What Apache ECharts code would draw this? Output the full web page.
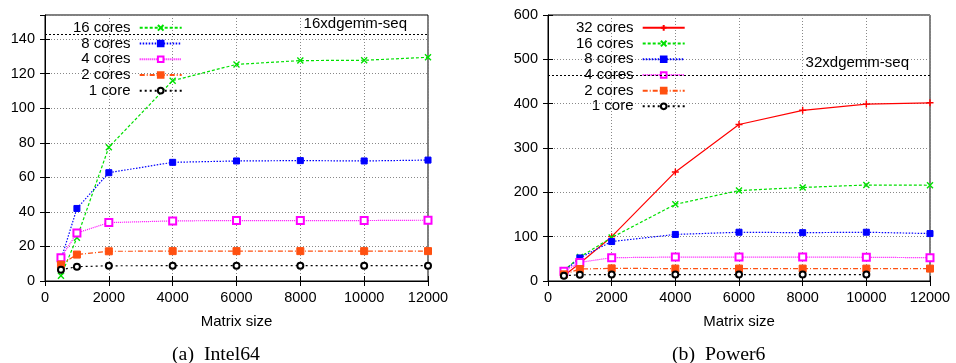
<!DOCTYPE html>
<html>
<head>
<meta charset="utf-8">
<script src="https://cdn.jsdelivr.net/npm/echarts@6/dist/echarts.min.js"></script>
<style>
  html, body { margin: 0; padding: 0; background: #fff; }
  #chart { width: 956px; height: 363px; }
</style>
</head>
<body>
<div id="chart"></div>
<script>
// matrix sizes on the x axis
const matrixSizes = [500, 1000, 2000, 4000, 6000, 8000, 10000, 12000];

// (a) Intel64
const intel16 = [3, 25, 77.5, 116, 125.4, 127.6, 127.8, 129.5];
const intel8 = [12.4, 42, 62.7, 68.7, 69.5, 69.7, 69.5, 70];
const intel4 = [13.5, 27.8, 33.8, 34.8, 35, 35, 35, 35.2];
const intel2 = [9.5, 15.3, 17.2, 17.3, 17.3, 17.3, 17.3, 17.3];
const intel1 = [6.5, 8.3, 8.8, 8.9, 8.9, 8.9, 8.9, 8.9];
const intelSeq = 143;

// (b) Power6
const power32 = [12, 40, 100, 246, 353, 385, 399, 402];
const power16 = [24, 54, 98, 173, 204, 211, 216.5, 216];
const power8 = [22, 52, 89, 105, 110, 109, 110, 107];
const power4 = [22, 42, 52.6, 54, 54, 54, 53.5, 52.6];
const power2 = [15, 27, 28.5, 28, 28, 28, 28, 28];
const power1 = [12, 14, 14.4, 14.4, 14.4, 14.4, 14.4];
const powerSeq = 463;

const FONT = 'Liberation Sans';
const crossPath = 'path://M0,0L10,10M10,0L0,10';
const plusPath = 'path://M5,0L5,10M0,5L10,5';

const styles = {
    '32 cores': { color: '#ff0000', dash: 'solid', symbol: plusPath, size: 7, stroke: true },
    '16 cores': { color: '#00e000', dash: [3, 2], symbol: crossPath, size: 6, stroke: true },
    '8 cores': { color: '#0000ff', dash: [1.5, 1.5], symbol: 'rect', size: 6 },
    '4 cores': { color: '#ff00ff', dash: [1, 1], symbol: 'emptyRect', size: 7 },
    '2 cores': { color: '#ff5010', dash: [5, 2, 1, 2], symbol: 'rect', size: 7 },
    '1 core': { color: '#000000', dash: [2, 3], symbol: 'emptyCircle', size: 6 }
};

function pairs(vals) {
    return vals.map((v, i) => [matrixSizes[i], v]);
}

function makeSeries(name, vals, gridIdx, seq) {
    const st = styles[name];
    const s = {
        name: name,
        type: 'line',
        xAxisIndex: gridIdx,
        yAxisIndex: gridIdx,
        data: pairs(vals),
        symbol: st.symbol,
        symbolSize: st.size,
        showAllSymbol: true,
        animation: false,
        z: 3,
        lineStyle: { color: st.color, width: 1.2, type: st.dash },
        itemStyle: {
            color: st.color,
            borderColor: st.color,
            borderWidth: st.stroke ? 1.4 : 1
        }
    };
    if (seq !== undefined) {
        s.markLine = {
            silent: true,
            symbol: 'none',
            animation: false,
            lineStyle: { color: '#000', width: 1, type: [2, 2] },
            label: {
                show: true,
                position: 'insideEndTop',
                formatter: seq.text,
                color: '#000',
                fontFamily: FONT,
                fontSize: 15,
                distance: seq.dy,
                padding: [0, seq.dx, 0, 0]
            },
            data: [{ yAxis: seq.value }]
        };
    }
    return s;
}

const gridTop = 15;
const gridBottom = 82;

function xAxisFor(gridIdx) {
    return {
        type: 'value',
        gridIndex: gridIdx,
        min: 0,
        max: 12000,
        interval: 2000,
        name: 'Matrix size',
        nameLocation: 'middle',
        nameGap: 33,
        nameTextStyle: { fontFamily: FONT, fontSize: 15, color: '#000' },
        axisLine: { show: true, lineStyle: { color: '#000', width: 1 } },
        axisTick: { show: true, inside: true, length: 5, lineStyle: { color: '#000' } },
        axisLabel: { fontFamily: FONT, fontSize: 14.5, color: '#000', margin: 9, formatter: v => String(v) },
        splitLine: { show: true, lineStyle: { color: '#888', width: 1, type: [1, 2] } }
    };
}

function yAxisFor(gridIdx, max, interval, showMax) {
    return {
        type: 'value',
        gridIndex: gridIdx,
        min: 0,
        max: max,
        interval: interval,
        axisLine: { show: true, lineStyle: { color: '#000', width: 1 } },
        axisTick: { show: true, inside: true, length: 5, lineStyle: { color: '#000' } },
        axisLabel: { fontFamily: FONT, fontSize: 14.5, color: '#000', margin: 10, showMaxLabel: showMax, formatter: v => String(v) },
        splitLine: { show: true, lineStyle: { color: '#888', width: 1, type: [1, 2] } }
    };
}

// mirrored ticks on top and right, like gnuplot does
function mirrorX(gridIdx) {
    return {
        type: 'value', gridIndex: gridIdx, position: 'top',
        min: 0, max: 12000, interval: 2000,
        axisLine: { show: false },
        axisTick: { show: true, inside: true, length: 5, lineStyle: { color: '#000' } },
        axisLabel: { show: false },
        splitLine: { show: false }
    };
}
function mirrorY(gridIdx, max, interval) {
    return {
        type: 'value', gridIndex: gridIdx, position: 'right',
        min: 0, max: max, interval: interval,
        axisLine: { show: false },
        axisTick: { show: true, inside: true, length: 5, lineStyle: { color: '#000' } },
        axisLabel: { show: false },
        splitLine: { show: false }
    };
}

function legendFor(names, left) {
    return {
        orient: 'vertical',
        left: left,
        top: 20,
        padding: 0,
        align: 'right',
        itemWidth: 42,
        itemHeight: 7,
        itemGap: 0,
        selectedMode: false,
        formatter: n => n + ' ',
        textStyle: { fontFamily: FONT, fontSize: 15, color: '#000', lineHeight: 15.7, height: 15.7 },
        data: names
    };
}

const chart = echarts.init(document.getElementById('chart'), null, { renderer: 'canvas' });

const option = {
    backgroundColor: '#fff',
    animation: false,
    grid: [
        { left: 45, right: 528, top: gridTop, bottom: gridBottom, show: true, borderColor: '#000', borderWidth: 1, backgroundColor: 'transparent' },
        { left: 548, right: 26, top: gridTop, bottom: gridBottom, show: true, borderColor: '#000', borderWidth: 1, backgroundColor: 'transparent' }
    ],
    xAxis: [xAxisFor(0), xAxisFor(1), mirrorX(0), mirrorX(1)],
    yAxis: [yAxisFor(0, 154, 20, false), yAxisFor(1, 600, 100, true), mirrorY(0, 154, 20), mirrorY(1, 600, 100)],
    legend: [
        legendFor(['16 cores', '8 cores', '4 cores', '2 cores', '1 core'], 73),
        legendFor(['32 cores', '16 cores', '8 cores', '4 cores', '2 cores', '1 core'], 576)
    ],
    series: [
        makeSeries('16 cores', intel16, 0),
        makeSeries('8 cores', intel8, 0),
        makeSeries('4 cores', intel4, 0),
        makeSeries('2 cores', intel2, 0),
        makeSeries('1 core', intel1, 0, { value: intelSeq, text: '16xdgemm-seq', dx: 18, dy: 3 }),
        makeSeries('32 cores', power32, 1),
        makeSeries('16 cores', power16, 1),
        makeSeries('8 cores', power8, 1),
        makeSeries('4 cores', power4, 1),
        makeSeries('2 cores', power2, 1),
        makeSeries('1 core', power1, 1, { value: powerSeq, text: '32xdgemm-seq', dx: 16, dy: 5 })
    ],
    graphic: [
        {
            type: 'text', left: 172, top: 346,
            style: { text: '(a)  Intel64', font: '18px "Liberation Serif"', fill: '#000' },
            scaleX: 1.1
        },
        {
            type: 'text', left: 672, top: 346,
            style: { text: '(b)  Power6', font: '18px "Liberation Serif"', fill: '#000' },
            scaleX: 1.1
        }
    ]
};

chart.setOption(option);
</script>
</body>
</html>
